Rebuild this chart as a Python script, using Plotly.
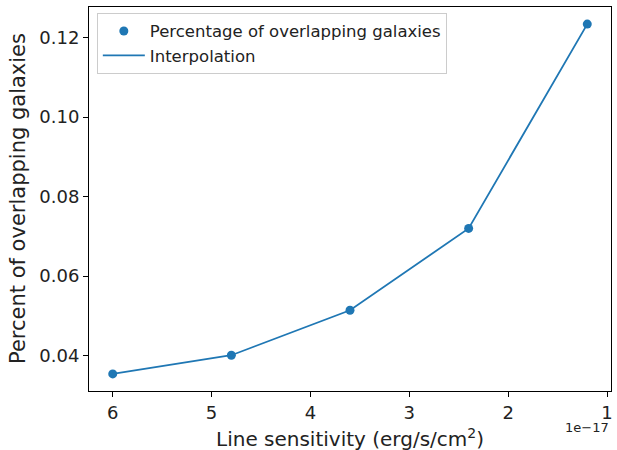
import plotly.graph_objects as go

# Line sensitivity in units of 1e-17 erg/s/cm^2
sensitivity = [6.0, 4.8, 3.6, 2.4, 1.2]
overlap_pct = [0.0354, 0.0401, 0.0514, 0.0720, 0.1234]
x_ticks = [6, 5, 4, 3, 2, 1]
y_ticks = [0.04, 0.06, 0.08, 0.10, 0.12]

blue = "#1f77b4"
font = "DejaVu Sans"

fig = go.Figure()
fig.add_trace(go.Scatter(x=sensitivity, y=overlap_pct, mode="markers",
                         name="Percentage of overlapping galaxies",
                         marker=dict(color=blue, size=9)))
fig.add_trace(go.Scatter(x=sensitivity, y=overlap_pct, mode="lines",
                         name="Interpolation",
                         line=dict(color=blue, width=1.8)))

axis_common = dict(showline=True, linecolor="black", linewidth=1, mirror=True,
                   ticks="outside", ticklen=5, tickwidth=1, tickcolor="black",
                   showgrid=False, zeroline=False, automargin=False,
                   ticklabeloverflow="allow",
                   tickfont=dict(family=font, size=18, color="#222"))

fig.update_layout(
    width=617, height=450,
    margin=dict(l=89, r=6, t=7, b=59, autoexpand=False),
    plot_bgcolor="white", paper_bgcolor="white",
    font=dict(family=font, color="#222"),
    showlegend=True,
    legend=dict(x=0.015, y=0.985, xanchor="left", yanchor="top",
                bgcolor="rgba(255,255,255,0.8)", bordercolor="#cccccc", borderwidth=1,
                font=dict(family=font, size=16.5, color="#222"),
                tracegroupgap=0, itemwidth=42),
    xaxis=dict(range=[6.24, 0.96], tickvals=x_ticks,
               ticktext=[str(t) for t in x_ticks], **axis_common),
    yaxis=dict(range=[0.0311, 0.1277], tickvals=y_ticks,
               ticktext=["%.2f" % t for t in y_ticks], **axis_common),
)

# Axis titles and offset text
fig.add_annotation(text="Line sensitivity (erg/s/cm<sup>2</sup>)", xref="paper", yref="paper",
                   x=0.5, y=-0.122, xanchor="center", yanchor="middle", showarrow=False,
                   font=dict(family=font, size=20, color="#222"))
fig.add_annotation(text="Percent of overlapping galaxies", xref="paper", yref="paper",
                   x=-0.136, y=0.5, xanchor="center", yanchor="middle", showarrow=False,
                   textangle=-90, font=dict(family=font, size=21, color="#222"))
fig.add_annotation(text="1e\u221217", xref="paper", yref="paper",
                   x=1.0, y=-0.096, xanchor="right", yanchor="middle", showarrow=False,
                   font=dict(family=font, size=13, color="#222"))

fig.write_html("out.html", config={"displayModeBar": False},
               post_script="document.body.style.margin='0';document.body.style.overflow='hidden';")
